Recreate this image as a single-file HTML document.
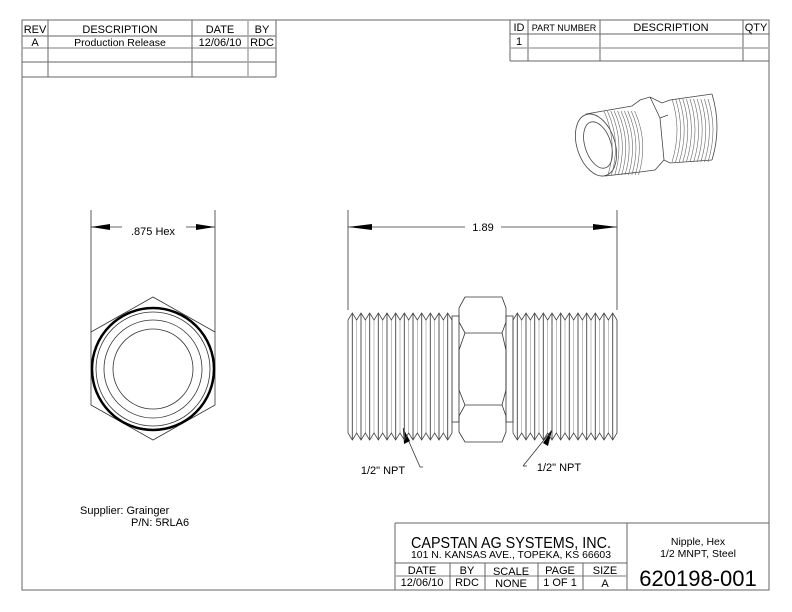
<!DOCTYPE html>
<html><head><meta charset="utf-8"><style>
html,body{margin:0;padding:0;background:#fff;}
svg{display:block;}
text{font-family:"Liberation Sans",Arial,sans-serif;fill:#000;}
</style></head><body>
<svg id="s" width="792" height="612" viewBox="0 0 792 612" xmlns="http://www.w3.org/2000/svg">
<g fill="none" stroke="#666" stroke-width="1">
<rect x="22" y="20" width="747" height="570"/>
<line x1="22" y1="36" x2="276" y2="36"/>
<line x1="22" y1="48" x2="276" y2="48" stroke="#aaa" stroke-width="1.5"/>
<line x1="22" y1="62" x2="276" y2="62"/>
<line x1="22" y1="77" x2="276" y2="77"/>
<line x1="48" y1="20" x2="48" y2="77"/>
<line x1="192" y1="20" x2="192" y2="77"/>
<line x1="248" y1="20" x2="248" y2="77" stroke="#aaa" stroke-width="1.5"/>
<line x1="276" y1="20" x2="276" y2="77"/>
<line x1="510" y1="20" x2="510" y2="61"/>
<line x1="528" y1="20" x2="528" y2="61"/>
<line x1="600" y1="20" x2="600" y2="61"/>
<line x1="743" y1="20" x2="743" y2="61"/>
<line x1="510" y1="34" x2="769" y2="34"/>
<line x1="510" y1="48" x2="769" y2="48" stroke="#aaa" stroke-width="1.5"/>
<line x1="510" y1="61" x2="769" y2="61"/>
<line x1="395" y1="523" x2="769" y2="523"/>
<line x1="395" y1="523" x2="395" y2="590"/>
<line x1="627" y1="523" x2="627" y2="590"/>
<line x1="395" y1="563" x2="627" y2="563"/>
<line x1="395" y1="576" x2="627" y2="576" stroke="#aaa" stroke-width="1.5"/>
<line x1="450" y1="563" x2="450" y2="590"/>
<line x1="485" y1="563" x2="485" y2="590"/>
<line x1="538" y1="563" x2="538" y2="590"/>
<line x1="583" y1="563" x2="583" y2="590"/>
</g>
<g font-size="11" text-anchor="middle">
<text x="35" y="33">REV</text><text x="120" y="33">DESCRIPTION</text><text x="220" y="33">DATE</text><text x="262" y="33">BY</text>
<text x="35" y="46">A</text><text x="120" y="46" font-size="10.5">Production Release</text><text x="220" y="46">12/06/10</text><text x="262" y="46">RDC</text>
<text x="519" y="31">ID</text><text x="564" y="31" font-size="9">PART NUMBER</text><text x="671" y="31">DESCRIPTION</text><text x="756" y="31">QTY</text>
<text x="519" y="45" >1</text>
<text x="511" y="548" font-size="16" textLength="200" lengthAdjust="spacingAndGlyphs">CAPSTAN AG SYSTEMS, INC.</text>
<text x="511" y="558" font-size="10" textLength="200" lengthAdjust="spacingAndGlyphs">101 N. KANSAS AVE., TOPEKA, KS 66603</text>
<text x="698" y="545" font-size="10.5">Nipple, Hex</text>
<text x="698" y="557" font-size="10.5">1/2 MNPT, Steel</text>
<text x="422" y="574">DATE</text><text x="467" y="574">BY</text><text x="511" y="575">SCALE</text><text x="560" y="574">PAGE</text><text x="605" y="574">SIZE</text>
<text x="422" y="586">12/06/10</text><text x="467" y="586">RDC</text><text x="511" y="587">NONE</text><text x="560" y="586">1 OF 1</text><text x="605" y="587">A</text>
<text x="698" y="586" font-size="22">620198-001</text>
<text x="153" y="235">.875 Hex</text>
<text x="483" y="231">1.89</text>
<text x="383" y="474">1/2" NPT</text>
<text x="559" y="471">1/2" NPT</text>
</g>
<g font-size="11"><text x="80" y="514">Supplier:  Grainger</text><text x="131" y="526">P/N:  5RLA6</text></g>
<g fill="none" stroke="#333" stroke-width="0.8">
<line x1="91" y1="210" x2="91" y2="332"/><line x1="215" y1="210" x2="215" y2="332"/>
<line x1="91" y1="227" x2="122" y2="227"/><line x1="186" y1="227" x2="215" y2="227"/>
<polygon points="153,297 215,332 215,405 153,440 91,405 91,332"/>
<circle cx="153" cy="369" r="61" stroke-width="2.5" stroke="#000"/>
<circle cx="153" cy="369" r="57"/>
<circle cx="153" cy="369" r="49"/>
<circle cx="153" cy="369" r="40"/>
<line x1="348" y1="210" x2="348" y2="310"/><line x1="617" y1="210" x2="617" y2="310"/>
<line x1="348" y1="227" x2="465" y2="227"/><line x1="501" y1="227" x2="617" y2="227"/>
<path d="M465,297 L502,297 L506,308 L506,322 L502,333 L465,333 L459,322 L459,308 Z"/>
<path d="M465,333 L459,350 L459,390 L465,405 M502,333 L506,350 L506,390 L502,405"/>
<path d="M465,405 L502,405 L506,416 L506,432 L502,442 L465,442 L459,432 L459,416 Z"/>
<rect x="452" y="316" width="7" height="106"/>
<rect x="506" y="316" width="7" height="106"/>
<line x1="403" y1="428" x2="420" y2="467"/><line x1="420" y1="467" x2="423" y2="467"/>
<line x1="552" y1="430" x2="523" y2="466"/><line x1="523" y1="466" x2="527" y2="466"/>
</g>
<g fill="#000">
<polygon points="91,227 110,224 110,230"/><polygon points="215,227 196,224 196,230"/>
<polygon points="348,227 372,224 372,230"/><polygon points="617,227 593,224 593,230"/>
<polygon points="403,428 404,444 410,441"/>
<polygon points="552,430 543,443 548,446"/>
</g>
<g id="thr" fill="none" stroke="#444" stroke-width="0.8"></g>
<g fill="none" stroke="#444" stroke-width="0.8">
<ellipse cx="596" cy="145" rx="19" ry="32" transform="rotate(-18 596 145)"/>
<ellipse cx="598" cy="145" rx="13" ry="24" transform="rotate(-18 598 145)"/>
<path d="M586,114 L632,106 L640,100 L650,97 L662,103 L670,100 L712,94"/>
<path d="M605,176 L640,172 L655,170 L664,160 L670,163 L712,160"/>
<path d="M712,94 Q722,127 712,160"/>
<path d="M650,97 L660,118 L664,160 M660,118 L668,115"/>
</g>
<g id="iso" fill="none" stroke="#666" stroke-width="0.6"></g>
</svg>
<script>
var ns="http://www.w3.org/2000/svg";
function P(g,d,w,c){var p=document.createElementNS(ns,"path");p.setAttribute("d",d);if(w)p.setAttribute("stroke-width",w);if(c)p.setAttribute("stroke",c);document.getElementById(g).appendChild(p);}
function thread(x0,x1){var n=Math.round((x1-x0)/8.7),pw=(x1-x0)/n;var t="M"+x0+",320",b="M"+x0+",433";
for(var i=0;i<n;i++){var a=x0+i*pw;t+=" L"+(a+pw/2)+",313 L"+(a+pw)+",320";b+=" L"+(a+pw/2)+",440 L"+(a+pw)+",433";
P("thr","M"+(a+pw/2)+",313 L"+(a+pw/2)+",440",1,"#555");P("thr","M"+(a+pw)+",320 L"+(a+pw)+",433",0.6,"#999");}
P("thr",t);P("thr",b);P("thr","M"+x0+",320 L"+x0+",433");P("thr","M"+x1+",320 L"+x1+",433");}
thread(348,452);thread(513,617);
for(var i=0;i<10;i++){var x=606+i*3.4;P("iso","M"+(x-2)+",111 Q"+(x+12)+",142 "+(x+2)+",175");}
for(var i=0;i<11;i++){var x=672+i*3.6;P("iso","M"+x+",99 Q"+(x+10)+",130 "+x+",162");}
</script>
</body></html>
